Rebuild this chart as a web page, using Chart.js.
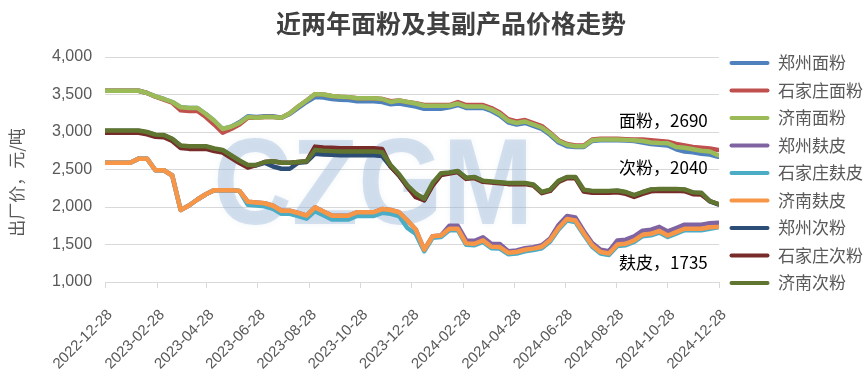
<!DOCTYPE html>
<html><head><meta charset="utf-8">
<script src="https://cdn.jsdelivr.net/npm/chart.js@4.4.0/dist/chart.umd.min.js"></script>
<style>html,body{margin:0;padding:0;background:#fff;}canvas{display:block;}</style>
</head><body>
<canvas id="c" width="863" height="381"></canvas>
<script>
// ---- categories ----
const startDate = '2022-12-28';
const endDate = '2024-12-28';
const sampleStepDays = 10;
const sampleCount = 74;
const tickLabels = ['2022-12-28','2023-02-28','2023-04-28','2023-06-28','2023-08-28','2023-10-28','2023-12-28','2024-02-28','2024-04-28','2024-06-28','2024-08-28','2024-10-28','2024-12-28'];

// ---- series values (元/吨), one value per sample date ----
const ZZ_F = [3550,3550,3550,3550,3550,3520,3475,3440,3400,3330,3320,3320,3240,3150,3040,3070,
3130,3210,3200,3210,3210,3190,3240,3320,3400,
3465,3460,3440,3430,3425,3410,3410,3410,3400,3370,3380,3360,3340,3310,3310,3310,
3330,3360,3320,3320,3320,3280,3220,3130,3100,3120,3080,3040,2960,2860,2810,
2800,2800,2880,2890,2890,2890,2885,2880,
2860,2840,2830,2820,2770,2740,2730,2710,2700,2670];
const SJZ_F = [3550,3550,3550,3550,3550,3520,3470,3430,3390,
3290,3280,3280,3200,3100,2990,
3040,3100,3190,3190,3200,3200,3190,3250,3340,3420,
3505,3500,3480,3470,3465,3450,3450,3450,3440,3410,3420,3400,3385,3360,3360,3360,3360,
3400,3360,3360,3360,3320,3260,3170,3140,3160,3120,3080,
2990,2890,2840,2820,2820,2900,2910,2910,2910,2905,2900,
2900,2890,2880,2870,2840,2820,2800,2790,2780,2760];
const JN_F = [3550,3550,3550,3550,3550,3520,3475,3440,3400,3330,
3320,3320,3240,3150,3040,3070,3120,3200,3190,3200,
3200,3190,3250,3340,3420,3505,3500,3480,3470,3465,
3450,3450,3450,3440,3400,3420,3400,3380,3350,3350,
3350,3350,3380,3340,3340,3340,3300,3240,3150,3120,
3140,3100,3060,2980,2880,2830,2810,2810,2890,2900,
2900,2900,2895,2890,2880,2860,2853,2850,2800,2790,
2770,2750,2740,2690];
const ZZ_B = [2590,2590,2590,2590,2645,2645,2490,2490,2420,1960,2020,2100,2170,2225,2225,2225,2215,2070,2060,2050,
2017,1950,1950,1920,1885,1995,1940,1885,1885,1885,1930,1930,1930,1973,1960,1930,1820,1700,1430,1610,1620,
1750,1750,1555,1550,1595,1510,1506,
1410,1420,1450,1465,1490,1580,
1760,1880,1860,
1680,1520,1430,1410,
1555,1565,1610,1685,1698,1735,1675,1720,1765,1765,1765,1785,
1790];
const SJZ_B = [2590,2590,2590,2590,2645,2645,2490,2490,2420,1960,2020,2100,2170,2225,2225,2225,2215,
2030,2020,2010,1977,1910,1910,1880,1845,
1945,1890,1835,1835,1835,1880,1880,1880,1923,1910,1880,
1720,1640,
1410,1590,1600,1690,1690,1495,1490,1535,1450,1446,1370,1380,1410,1425,1450,1540,1700,1820,1800,1630,1470,1380,1360,1480,1490,1535,1610,1623,1660,1600,1645,1690,1690,1690,1710,
1730];
const JN_B = [2590,2590,2590,2590,2645,2645,2490,2490,2420,1960,
2020,2100,2170,2225,2225,2225,2215,2070,2060,2050,
2017,1950,1950,1920,1885,1995,1940,1885,1885,1885,
1930,1930,1930,1973,1960,1930,1820,1700,1430,1610,
1620,1710,1710,1515,1510,1555,1470,1466,1390,1400,
1430,1445,1470,1560,1720,1840,1820,1650,1490,1400,
1380,1500,1510,1555,1630,1643,1680,1620,1665,1710,
1710,1710,1730,1735];
const ZZ_M = [3015,3015,3015,3015,3015,2995,2960,2955,2905,2815,2805,2805,2805,2775,2755,2685,2615,2555,2555,2590,
2540,2510,2510,2590,2600,
2710,2700,2695,2690,2690,2690,2690,2690,2680,
2540,2420,2270,2140,2090,
2295,2435,2455,2475,2385,2395,2345,2335,2325,2315,2315,2315,2295,2195,2225,2345,2395,2395,2225,2210,2210,2210,2215,2195,2155,2195,2230,2235,2235,2235,2230,2190,2185,2075,2035];
const SJZ_M = [2990,2990,2990,2990,2990,2970,2935,2930,2880,
2785,2775,2775,2775,2745,2725,2655,2585,2525,
2560,2600,2610,2590,2590,2600,2610,
2805,2795,2790,2785,2785,2785,2785,2785,2775,
2540,2420,2270,2130,2090,
2285,2425,2445,2465,2375,2385,2335,2325,2315,2305,2305,2305,2285,2185,2215,2335,2385,2385,
2205,2190,2190,2190,2195,2175,2135,2175,2210,2215,2215,2215,2210,2170,2165,
2080,2040];
const JN_M = [3020,3020,3020,3020,3020,3000,2965,2960,2910,2820,
2810,2810,2810,2780,2760,2690,2620,2560,2560,2600,
2610,2590,2590,2600,2610,2760,2750,2745,2740,2740,
2740,2740,2740,2730,2560,2440,2290,2180,2110,2320,
2450,2460,2480,2390,2400,2350,2340,2330,2320,2320,
2320,2300,2200,2230,2350,2400,2400,2230,2215,2215,
2215,2220,2200,2160,2200,2235,2240,2240,2240,2235,
2195,2190,2080,2040];

const seriesNames = ['郑州面粉','石家庄面粉','济南面粉','郑州麸皮','石家庄麸皮','济南麸皮','郑州次粉','石家庄次粉','济南次粉'];
const seriesValues = [ZZ_F, SJZ_F, JN_F, ZZ_B, SJZ_B, JN_B, ZZ_M, SJZ_M, JN_M];
const seriesColors = ['#4F81BD','#C0504D','#9BBB59','#8064A2','#4BACC6','#F79646','#2C4D75','#772C2A','#5F7530'];

const yTicks = {min: 1000, max: 4000, step: 500};

// end labels: product name + latest Jinan value; anchor in data units
const notes = [
  {name: '面粉', series: JN_F, anchorDate: '2024-08-31', anchorValue: 3150},
  {name: '次粉', series: JN_M, anchorDate: '2024-08-31', anchorValue: 2525},
  {name: '麸皮', series: JN_B, anchorDate: '2024-08-31', anchorValue: 1255}
];

// ---- helpers ----
function dayOf(s) {
  const [y, m, d] = s.split('-').map(Number);
  const [y0, m0, d0] = startDate.split('-').map(Number);
  return Math.round((Date.UTC(y, m - 1, d) - Date.UTC(y0, m0 - 1, d0)) / 86400000);
}
const sampleDays = Array.from({length: sampleCount}, (_, i) => i * sampleStepDays);

const CJK = "'Noto Sans CJK SC', 'Noto Sans', sans-serif";
const LAT = "'Liberation Sans', Arial, sans-serif";

const decor = {
  id: 'decor',
  beforeDatasetsDraw(chart) {
    const {ctx, chartArea: a} = chart;
    ctx.save();
    ctx.font = "bold 122px " + LAT;
    ctx.textAlign = 'center';
    ctx.textBaseline = 'alphabetic';
    ctx.fillStyle = 'rgba(150,178,212,0.38)';
    ctx.shadowColor = 'rgba(150,178,212,0.35)';
    ctx.shadowBlur = 6;
    ctx.fillText('CZGM', a.left + a.width * 0.437, a.top + a.height * 0.74, 320);
    ctx.restore();
  },
  afterDatasetsDraw(chart) {
    const {ctx} = chart;
    const xs = chart.scales.x, ys = chart.scales.y;
    ctx.save();
    ctx.font = "17px " + CJK;
    ctx.fillStyle = '#000000';
    ctx.textAlign = 'left';
    ctx.textBaseline = 'middle';
    notes.forEach(n => {
      const v = n.series[n.series.length - 1];
      ctx.fillText(n.name + '，' + v, xs.getPixelForValue(dayOf(n.anchorDate)), ys.getPixelForValue(n.anchorValue));
    });
    ctx.restore();
  },
  afterDraw(chart) {
    const {ctx, chartArea: a} = chart;
    ctx.save();
    ctx.translate(17, (a.top + a.bottom) / 2 + 13);
    ctx.rotate(-Math.PI / 2);
    ctx.font = "17px " + CJK;
    ctx.fillStyle = '#595959';
    ctx.textAlign = 'center';
    ctx.textBaseline = 'middle';
    ctx.fillText('出厂价，元/吨', 0, 0);
    ctx.restore();
  }
};

const datasets = seriesNames.map((name, i) => ({
  label: name,
  data: seriesValues[i].map((v, k) => ({x: sampleDays[k], y: v})),
  borderColor: seriesColors[i],
  backgroundColor: seriesColors[i],
  borderWidth: 4.5,
  pointRadius: 0,
  tension: 0,
  fill: false,
  borderJoinStyle: 'round',
  borderCapStyle: 'round',
  order: seriesNames.length - 1 - i
}));

new Chart(document.getElementById('c'), {
  type: 'line',
  data: {datasets},
  plugins: [decor],
  options: {
    responsive: false,
    animation: false,
    devicePixelRatio: 1,
    layout: {padding: {left: 39, right: 0, top: 0, bottom: 0}},
    scales: {
      x: {
        type: 'linear',
        min: 0,
        max: dayOf(endDate),
        afterBuildTicks: s => { s.ticks = tickLabels.map(t => ({value: dayOf(t)})); },
        afterFit: s => { s.height = 99; },
        ticks: {
          autoSkip: false,
          minRotation: 45,
          maxRotation: 45,
          padding: 18,
          labelOffset: 5,
          color: '#595959',
          font: {family: LAT, size: 15},
          callback: (v, i) => tickLabels[i]
        },
        grid: {drawOnChartArea: false, drawTicks: true, tickLength: 6, color: '#d9d9d9'},
        border: {color: '#d9d9d9'}
      },
      y: {
        min: yTicks.min,
        max: yTicks.max,
        ticks: {
          stepSize: yTicks.step,
          padding: 13,
          color: '#595959',
          font: {family: LAT, size: 16},
          callback: v => Number(v).toLocaleString('en-US')
        },
        grid: {color: '#d9d9d9', drawTicks: false},
        border: {display: false}
      }
    },
    plugins: {
      tooltip: {enabled: false},
      title: {
        display: true,
        text: '近两年面粉及其副产品价格走势',
        color: '#404040',
        font: {family: CJK, size: 25, weight: 'bold'},
        padding: {top: 8, bottom: 19}
      },
      legend: {
        position: 'right',
        fullSize: true,
        align: 'start',
        maxWidth: 144,
        title: {display: true, text: '', font: {size: 10}, padding: {top: 0, bottom: 32}},
        labels: {
          boxWidth: 40,
          boxHeight: 4,
          padding: 10.5,
          color: '#595959',
          font: {family: CJK, size: 17},
          useBorderRadius: true,
          borderRadius: 2,
          generateLabels: chart => chart.data.datasets.map((ds, i) => ({
            text: ds.label,
            fillStyle: ds.borderColor,
            strokeStyle: ds.borderColor,
            lineWidth: 0,
            hidden: false,
            datasetIndex: i,
            fontColor: '#595959',
            borderRadius: 2
          }))
        }
      }
    }
  }
});
</script>
</body></html>
